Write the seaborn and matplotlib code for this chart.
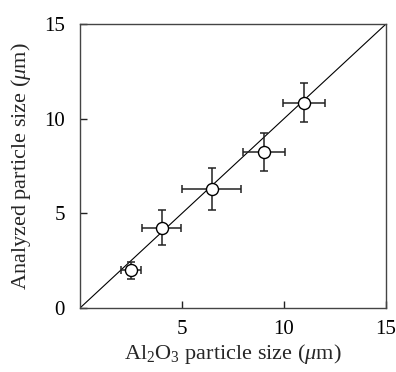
import matplotlib
matplotlib.use("Agg")
import matplotlib.pyplot as plt
import seaborn as sns
import pandas as pd

# Data
al2o3_size = [2.5, 4.0, 6.45, 9.0, 11.0]
analyzed_size = [2.0, 4.25, 6.3, 8.25, 10.85]
x_err = [0.5, 0.95, 1.45, 1.03, 1.03]
y_err = [0.45, 0.9, 1.12, 1.0, 1.02]
ref_line = [0, 15]

sns.set_style("ticks")
plt.rcParams['font.family'] = ['Liberation Serif', 'DejaVu Serif']
plt.rcParams['mathtext.fontset'] = 'custom'
plt.rcParams['mathtext.rm'] = 'Liberation Serif'
plt.rcParams['mathtext.it'] = 'Liberation Serif:italic'

df = pd.DataFrame({"x": al2o3_size, "y": analyzed_size})

fig = plt.figure(figsize=(3.96, 3.72), dpi=100)
ax = fig.add_axes([80/396, 64/372, 306/396, 284/372])

sns.lineplot(x=ref_line, y=ref_line, ax=ax, color="black", lw=0.8)
ax.errorbar(al2o3_size, analyzed_size, xerr=x_err, yerr=y_err, fmt="none",
            ecolor="#222222", elinewidth=1.1, capsize=3, capthick=1.1, zorder=3)
sns.scatterplot(data=df, x="x", y="y", ax=ax, marker="o", s=75,
                facecolor="white", edgecolor="black", linewidth=1.0, zorder=4)

ax.set_xlim(0, 15)
ax.set_ylim(0, 15)
ax.set_xticks([5, 10, 15])
ax.set_yticks([0, 5, 10, 15])
ax.tick_params(direction="in", length=5, width=1, labelsize=15, colors="#222222",
               labelcolor="black")
ax.tick_params(axis="x", pad=9)
ax.tick_params(axis="y", pad=11)
for s in ax.spines.values():
    s.set_visible(True)
    s.set_linewidth(1.0)
    s.set_color("#444444")

ax.set_xlabel(r"Al$_2$O$_3$ particle size ($\mathit{\mu}$m)", fontsize=16, labelpad=2)
ax.set_ylabel(r"Analyzed particle size ($\mathit{\mu}$m)", fontsize=16, labelpad=8)

fig.savefig("out.png", dpi=100)
